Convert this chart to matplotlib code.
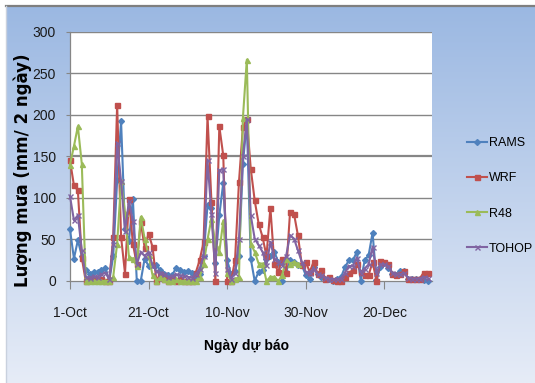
import numpy as np
import matplotlib
matplotlib.use("Agg")
import matplotlib.pyplot as plt

# daily rainfall forecasts (mm / 2 days), 1-Oct .. 31-Dec
days = np.arange(92)
tick_pos = [0, 20, 40, 60, 80]
tick_labels = ["1-Oct", "21-Oct", "10-Nov", "30-Nov", "20-Dec"]

rams = [62, 27, 49, 30, 13, 9, 11, 11, 13, 16, 0, 30, 121, 192, 62, 48, 99, 0, 0, 27,
        18, 19, 19, 13, 9, 7, 7, 16, 13, 11, 12, 10, 5, 9, 30, 91, 88, 22, 79, 118,
        25, 8, 12, 30, 141, 192, 27, 0, 11, 13, 27, 30, 35, 23, 0, 11, 25, 23, 19, 19,
        7, 2, 17, 8, 5, 3, 2, 0, 2, 5, 17, 25, 25, 35, 0, 25, 31, 58, 1, 17,
        22, 16, 9, 7, 12, 12, 3, 2, 3, 3, 1, 0]
wrf = [145, 115, 109, 28, 0, 2, 1, 3, 2, 0, 0, 53, 212, 53, 9, 99, 45, 20, 71, 40,
       57, 41, 0, 9, 3, 0, 3, 0, 3, 0, 0, 0, 10, 25, 47, 198, 95, 0, 186, 151,
       0, 0, 25, 119, 185, 195, 135, 97, 69, 53, 30, 88, 21, 11, 27, 10, 83, 81, 55, 19,
       23, 11, 23, 9, 13, 3, 5, 1, 0, 0, 5, 10, 13, 21, 11, 7, 7, 23, 0, 24,
       23, 21, 9, 7, 8, 12, 3, 3, 3, 3, 10, 10]
r48 = [140, 162, 186, 141, 0, 0, 0, 0, 0, 0, 0, 5, 45, 120, 82, 29, 27, 18, 77, 51,
       31, 7, 0, 5, 3, 0, 0, 2, 0, 0, 0, 0, 0, 5, 20, 50, 75, 45, 35, 72,
       10, 0, 2, 5, 196, 266, 45, 35, 21, 21, 0, 5, 5, 0, 7, 27, 21, 23, 21] + [np.nan] * 33
tohop = [102, 73, 79, 37, 5, 4, 6, 5, 8, 10, 2, 45, 166, 120, 60, 96, 72, 20, 35, 30,
         35, 19, 12, 10, 8, 5, 6, 8, 7, 6, 5, 4, 8, 15, 30, 145, 80, 10, 133, 135,
         15, 3, 10, 50, 150, 195, 79, 51, 43, 35, 19, 47, 27, 23, 19, 30, 55, 51, 37, 23,
         11, 10, 15, 8, 7, 4, 3, 2, 2, 3, 10, 18, 18, 28, 10, 15, 20, 41, 10, 20,
         20, 18, 10, 8, 8, 10, 4, 3, 3, 3, 5, 4]

series = [
    ("RAMS", rams, "#4F81BD", "D", 3.0),
    ("WRF", wrf, "#C0504D", "s", 3.6),
    ("R48", r48, "#9BBB59", "^", 3.6),
    ("TOHOP", tohop, "#8064A2", "x", 3.6),
]

sans = ["Liberation Sans", "DejaVu Sans"]
W, H = 535, 383

fig = plt.figure(figsize=(W / 100, H / 100), dpi=100)
fig.patch.set_facecolor("white")

# gradient backdrop of the chart area
bg = fig.add_axes([0, 0, 1, 1])
bg.set_xlim(0, W)
bg.set_ylim(H, 0)
bg.axis("off")
top = np.array([0x9b, 0xb8, 0xe2]) / 255
bot = np.array([0xe6, 0xec, 0xf7]) / 255
t = np.linspace(0, 1, 256)[:, None]
grad = (top * (1 - t) + bot * t)[:, None, :]
bg.imshow(grad, extent=(6, W, H, 6), aspect="auto", interpolation="bilinear")
bg.plot([6, W], [6, 6], color="#7f7f7f", lw=1.6)
bg.plot([6, 6], [6, H], color="#c9d1de", lw=1.0)

ax = fig.add_axes([70 / W, 1 - 281 / H, 361.5 / W, 249.5 / H])
ax.set_facecolor("white")
ax.set_xlim(0, 92)
ax.set_ylim(0, 300)

for y in range(50, 301, 50):
    ax.axhline(y, color="#868686", lw=1.6 if y == 150 else 1.0, zorder=1)

for name, vals, col, mk, ms in series:
    ax.plot(days, vals, color=col, lw=1.5, marker=mk, ms=ms, mew=1.0,
            label=name, clip_on=False, zorder=3)

for side in ("top", "right"):
    ax.spines[side].set_visible(False)
for side in ("left", "bottom"):
    ax.spines[side].set_color("#868686")
    ax.spines[side].set_linewidth(0.9)

ax.set_yticks(range(0, 301, 50))
ax.set_xticks(tick_pos)
ax.set_xticklabels(tick_labels)
ax.tick_params(axis="y", direction="out", length=3, color="#868686", pad=7, labelsize=10)
ax.tick_params(axis="x", direction="out", length=6, color="#868686", pad=12, labelsize=10)
for lab in ax.get_xticklabels() + ax.get_yticklabels():
    lab.set_family(sans)
    lab.set_color("#1a1a1a")

fig.text(23 / W, 1 - 170 / H, "Lượng mưa (mm/ 2 ngày)", rotation=90,
         ha="center", va="center", fontsize=12, fontweight="bold",
         family="DejaVu Sans", color="black")
fig.text(246 / W, 1 - 346 / H, "Ngày dự báo", ha="center", va="center",
         fontsize=10, fontweight="bold", family=sans, color="black")

handles, labels = ax.get_legend_handles_labels()
fig.legend(handles, labels, loc="center left", bbox_to_anchor=(456 / W, 1 - 196 / H),
           frameon=False, handlelength=1.6, handletextpad=0.15, labelspacing=1.85,
           numpoints=1, prop={"family": sans, "size": 9})

fig.savefig("out.png", dpi=100)
